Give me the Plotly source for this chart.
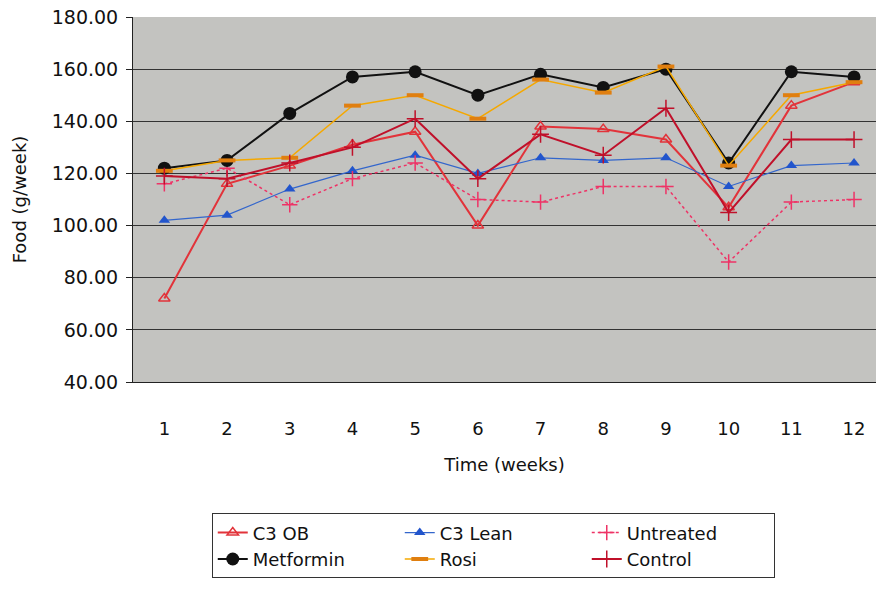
import plotly.graph_objects as go

weeks = [1, 2, 3, 4, 5, 6, 7, 8, 9, 10, 11, 12]
c3_ob = [72, 116, 123, 131, 136, 100, 138, 137, 133, 107, 146, 155]
c3_lean = [102, 104, 114, 121, 127, 120, 126, 125, 126, 115, 123, 124]
untreated = [116, 122, 108, 118, 124, 110, 109, 115, 115, 86, 109, 110]
metformin = [122, 125, 143, 157, 159, 150, 158, 153, 160, 124, 159, 157]
rosi = [121, 125, 126, 146, 150, 141, 156, 151, 161, 123, 150, 155]
control = [119, 118, 124, 130, 141, 118, 135, 127, 145, 105, 133, 133]
y_ticks = [40, 60, 80, 100, 120, 140, 160, 180]

FONT = "DejaVu Sans"
fig = go.Figure()

fig.add_trace(go.Scatter(x=weeks, y=c3_ob, name="C3 OB", mode="lines+markers",
    line=dict(color="#e2333a", width=2),
    marker=dict(symbol="triangle-up-open", size=10, color="#e2333a", line=dict(width=1.5))))
fig.add_trace(go.Scatter(x=weeks, y=c3_lean, name="C3 Lean", mode="lines+markers",
    line=dict(color="#3366cc", width=1.2),
    marker=dict(symbol="triangle-up", size=10, color="#2255cc")))
fig.add_trace(go.Scatter(x=weeks, y=untreated, name="Untreated", mode="lines+markers",
    line=dict(color="#ee3366", width=1.5, dash="dot"),
    marker=dict(symbol="cross-thin", size=11, color="#ee3366", line=dict(width=1.5, color="#ee3366"))))
fig.add_trace(go.Scatter(x=weeks, y=metformin, name="Metformin", mode="lines+markers",
    line=dict(color="#111111", width=2),
    marker=dict(symbol="circle", size=13, color="#111111")))
fig.add_trace(go.Scatter(x=weeks, y=rosi, name="Rosi", mode="lines+markers",
    line=dict(color="#f5a800", width=1.5),
    marker=dict(symbol="line-ew", size=12, color="#e07f10", line=dict(width=4, color="#e07f10"))))
fig.add_trace(go.Scatter(x=weeks, y=control, name="Control", mode="lines+markers",
    line=dict(color="#c0102a", width=2),
    marker=dict(symbol="cross-thin", size=12, color="#c0102a", line=dict(width=1.5, color="#c0102a"))))

fig.update_layout(
    width=876, height=595,
    margin=dict(l=133, r=0, t=17, b=213, autoexpand=False),
    paper_bgcolor="white",
    plot_bgcolor="#c3c3c0",
    font=dict(family=FONT, size=17, color="#111111"),
    xaxis=dict(range=[0.5, 12.35], tickmode="array", tickvals=weeks,
               ticktext=[str(w) for w in weeks], showgrid=False, zeroline=False,
               showline=True, linecolor="#222", linewidth=1,
               ticks="", tickfont=dict(size=18), ticklabelstandoff=30,
               title=dict(text="Time (weeks)", font=dict(size=18), standoff=20)),
    yaxis=dict(range=[40, 180], tickmode="array", tickvals=y_ticks,
               ticktext=["%.2f" % v for v in y_ticks],
               showgrid=True, gridcolor="#333333", gridwidth=1, zeroline=False,
               showline=True, linecolor="#222", linewidth=1,
               ticks="outside", ticklen=6, tickcolor="#222", tickfont=dict(size=19),
               ticklabelstandoff=4,
               title=dict(text="Food (g/week)", font=dict(size=18), standoff=20)),
    legend=dict(orientation="h", x=0.106, xanchor="left", y=-0.36, yanchor="top",
                bordercolor="#333333", borderwidth=1, bgcolor="white",
                entrywidth=142, font=dict(size=18), tracegroupgap=0),
    showlegend=True,
)

fig.write_html("out.html")
